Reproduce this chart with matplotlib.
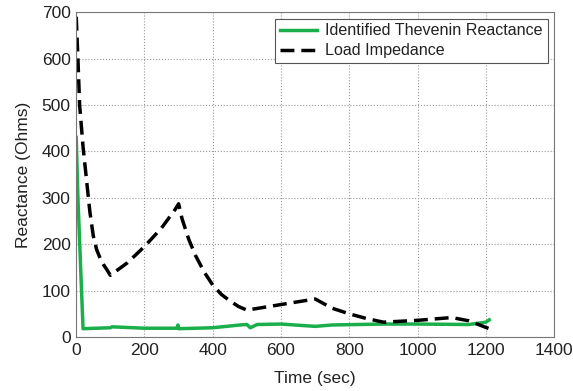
import matplotlib
matplotlib.use("Agg")
import matplotlib.pyplot as plt

plt.rcParams['font.family'] = ['Liberation Sans', 'DejaVu Sans']

# Load impedance (dashed black)
load_t = [0, 5, 10, 20, 30, 40, 50, 60, 70, 80, 90, 100, 150, 200, 250, 290, 300,
          310, 330, 350, 375, 400, 425, 450, 475, 500, 600, 700, 725, 750, 800,
          850, 900, 1000, 1100, 1150, 1210]
load_x = [690, 600, 500, 410, 340, 270, 218, 188, 170, 156, 145, 133, 160, 195,
          235, 275, 287, 255, 210, 175, 140, 112, 92, 78, 66, 58, 70, 82, 72, 62,
          50, 40, 32, 36, 42, 35, 18]

# Identified Thevenin reactance (green)
thev_t = [0, 5, 20, 100, 105, 200, 295, 298, 300, 400, 480, 500, 510, 530, 600,
          700, 750, 900, 1000, 1150, 1200, 1210]
thev_x = [430, 300, 18, 20, 22, 19, 19, 26, 18, 20, 26, 27, 20, 27, 28, 23, 26,
          28, 28, 27, 32, 37]

fig = plt.figure(figsize=(5.73, 3.91), dpi=100)
ax = fig.add_axes([0.133, 0.138, 0.834, 0.831])

ax.plot(thev_t, thev_x, color='#1aaf4b', lw=2.5, label='Identified Thevenin Reactance')
ax.plot(load_t, load_x, color='black', lw=2.5, ls=(0, (4, 2)), label='Load Impedance')

ax.set_xlim(0, 1400)
ax.set_ylim(0, 700)
ax.set_xticks(range(0, 1401, 200))
ax.set_yticks(range(0, 701, 100))
ax.grid(True, ls=':', color='#999999', lw=0.8)
ax.tick_params(labelsize=12.5, direction='in', length=0, pad=4, labelcolor='#222222')
for s in ax.spines.values():
    s.set_color('#777777')

ax.set_xlabel('Time (sec)', fontsize=12.5, labelpad=10, color='#222222')
ax.set_ylabel('Reactance (Ohms)', fontsize=12.5, labelpad=8, color='#222222')

leg = ax.legend(loc='upper right', fontsize=11.6, fancybox=False, framealpha=1,
                edgecolor='#555555', borderpad=0.3, handlelength=2.3,
                handletextpad=0.5, labelspacing=0.3, borderaxespad=0.4)
leg.get_frame().set_linewidth(0.8)
for t in leg.get_texts():
    t.set_color('#222222')

fig.savefig('out.png', dpi=100)
